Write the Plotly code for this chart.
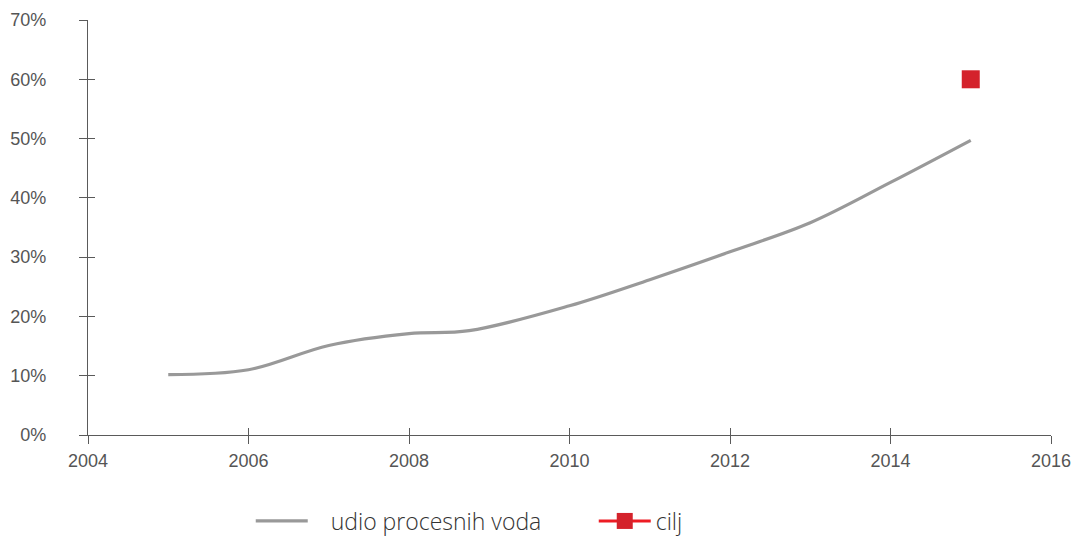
import plotly.graph_objects as go

# Share of process water over time (fractions)
years = [2005, 2006, 2007, 2008, 2008.75, 2010, 2011, 2012, 2013, 2014, 2015]
share = [0.102, 0.110, 0.151, 0.171, 0.176, 0.218, 0.262, 0.309, 0.358, 0.426, 0.497]

# Target value
target_year = [2015]
target_share = [0.60]

x_ticks = [2004, 2006, 2008, 2010, 2012, 2014, 2016]
y_ticks = [0, 0.1, 0.2, 0.3, 0.4, 0.5, 0.6, 0.7]
y_labels = ["0%", "10%", "20%", "30%", "40%", "50%", "60%", "70%"]

axis_col = "#5a5a5a"
tick_font = dict(family="Liberation Sans, Arial, sans-serif", size=18, color="#555555")

fig = go.Figure()
fig.add_trace(go.Scatter(
    x=years, y=share, mode="lines", name="\u00a0\u00a0\u00a0udio procesnih voda",
    line=dict(color="#999999", width=3.2, shape="spline", smoothing=1.0),
))
fig.add_trace(go.Scatter(
    x=target_year, y=target_share, mode="markers+lines", name="cilj",
    marker=dict(symbol="square", size=18, color="#d4222b"),
    line=dict(color="#ed1c24", width=3),
))
# invisible trace on the overlay axes (inner half of the crossing ticks)
fig.add_trace(go.Scatter(x=[2004], y=[0], xaxis="x2", yaxis="y2", mode="markers",
                         marker=dict(opacity=0), showlegend=False, hoverinfo="skip"))

common_axis = dict(showgrid=False, zeroline=False, showline=True, linecolor=axis_col,
                   linewidth=1.3, tickcolor=axis_col, tickwidth=1.3, automargin=False)

fig.update_layout(
    width=1074, height=536,
    margin=dict(l=88, r=23, t=20, b=101),
    paper_bgcolor="white", plot_bgcolor="white",
    xaxis=dict(range=[2004, 2016], tickvals=x_ticks, ticks="outside", ticklen=8,
               tickfont=tick_font, ticklabelstandoff=1, **common_axis),
    yaxis=dict(range=[0, 0.7], tickvals=y_ticks, ticktext=y_labels, ticks="outside", ticklen=8,
               tickfont=tick_font, ticklabelstandoff=29, **common_axis),
    xaxis2=dict(range=[2004, 2016], tickvals=x_ticks, ticks="inside", ticklen=7,
                showticklabels=False, overlaying="x", side="bottom", **common_axis),
    yaxis2=dict(range=[0, 0.7], tickvals=y_ticks, ticks="inside", ticklen=7,
                showticklabels=False, overlaying="y", side="left", **common_axis),
    legend=dict(orientation="h", x=0.169, xanchor="left", xref="paper",
                y=0.028, yanchor="middle", yref="container",
                font=dict(family="Open Sans", size=23, color="#333333", weight=300),
                itemwidth=52, entrywidth=276, bgcolor="rgba(0,0,0,0)"),
    showlegend=True,
)

fig.write_html("out.html")
